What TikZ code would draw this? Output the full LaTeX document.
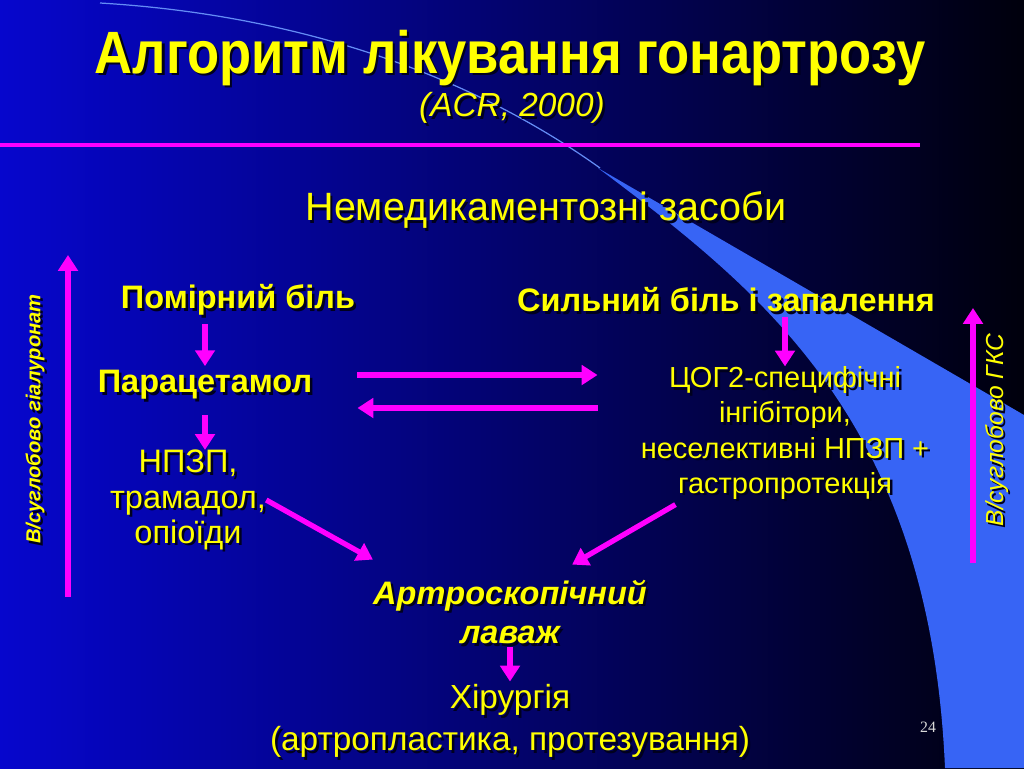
\documentclass[tikz,border=0pt]{standalone}
\usepackage{fontspec}
\setmainfont{Liberation Sans}
\newfontfamily\numfont{Liberation Serif}
\usetikzlibrary{arrows.meta,calc}

\definecolor{mag}{RGB}{255,0,255}
\definecolor{txtyel}{RGB}{255,255,0}
\definecolor{txtshadow}{RGB}{0,0,30}
\definecolor{bgleft}{RGB}{6,6,205}
\definecolor{bgmid}{RGB}{0,0,165}
\definecolor{bgright}{RGB}{0,0,12}
\definecolor{swoosh}{RGB}{55,100,245}
\definecolor{arcline}{RGB}{100,140,245}

% text with a dark drop shadow
\newcommand{\shnode}[4]{%
  \node[#1,text=txtshadow] at ($(#3)+(2.5,2.5)$) {#4};
  \node[#1] (#2) at (#3) {#4};}

\tikzset{
  lbl/.style={text=txtyel,align=center,inner sep=0pt,font=\fontsize{18.5}{20}\selectfont},
  lblb/.style={lbl,font=\bfseries\fontsize{18.5}{20}\selectfont},
  arr/.style={-{Triangle[length=9pt,width=11pt]},line width=3pt,draw=mag},
}

\begin{document}
\begin{tikzpicture}[x=0.02cm,y=-0.02cm]
  \useasboundingbox (0,0) rectangle (1024,768);

  % background
  \shade[left color=bgleft,middle color=bgmid,right color=bgright] (0,0) rectangle (1024,768);
  \fill[swoosh] (598,168) -- (1024,415) -- (1024,768) -- (945,768)
    .. controls (930,420) and (760,290) .. (598,168) -- cycle;
  \draw[arcline,line width=0.7pt] (100,3) .. controls (300,15) and (470,75) .. (600,168);

  % title
  \shnode{lbl,font=\bfseries\fontsize{34}{36}\selectfont}{title}{510,58}{\scalebox{0.88}[1]{Алгоритм лікування гонартрозу}}
  \shnode{lbl,font=\itshape\fontsize{19}{21}\selectfont}{src}{512,108}{(ACR, 2000)}
  \draw[mag,line width=2.8pt] (0,145) -- (920,145);

  \shnode{lbl,font=\fontsize{22.5}{24}\selectfont}{nondrug}{546,210}{Немедикаментозні засоби}

  % left branch
  \shnode{lblb}{mild}{238,300}{Помірний біль}
  \shnode{lblb}{para}{205,385}{Парацетамол}
  \shnode{lbl}{nsaid}{188,500}{НПЗП,\\трамадол,\\опіоїди}

  % right branch
  \shnode{lblb}{strong}{726,300}{Сильний біль і запалення}
  \shnode{lbl,font=\fontsize{16.5}{20}\selectfont}{cox}{785,433}{ЦОГ2-специфічні\\інгібітори,\\неселективні НПЗП +\\гастропротекція}

  % bottom
  \shnode{lblb,font=\bfseries\itshape\fontsize{18.5}{22.5}\selectfont}{artro}{510,612}{Артроскопічний\\лаваж}
  \shnode{lbl,font=\fontsize{19}{24}\selectfont}{surg}{510,721}{Хірургія\\(артропластика, протезування)}

  \node[text=white!85!black,font=\numfont\fontsize{9}{10}\selectfont] (pg) at (928,727) {24};

  % side labels
  \shnode{lblb,rotate=90,font=\bfseries\itshape\fontsize{11.5}{12}\selectfont}{hyal}{35,419}{В/суглобово гіалуронат}
  \shnode{lbl,rotate=90,font=\itshape\fontsize{14}{15}\selectfont}{gcs}{997,430}{В/суглобово ГКС}
  \coordinate (hb) at (68,597);
  \coordinate (ht) at (68,255);
  \coordinate (gb) at (973,563);
  \coordinate (gt) at (973,308);

  % arrows
  \draw[arr,shorten <=0.16cm,shorten >=0.08cm] (mild.south -| para.north) -- (para.north);
  \draw[arr,shorten <=0.3cm] (para.south) -- (para.south |- nsaid.north);
  \draw[arr,shorten <=0.08cm] (strong.south -| cox.north) -- (cox.north);
  \draw[arr,shorten <=0.9cm,shorten >=0.86cm] ([yshift=0.2cm]para.east) -- ([yshift=0.2cm]para.east -| cox.west);
  \draw[arr,shorten <=0.86cm,shorten >=0.9cm] ([yshift=-0.46cm]para.east -| cox.west) -- ([yshift=-0.46cm]para.east);
  \draw[arr] (nsaid.east) -- ([yshift=0.4cm]artro.north west);
  \draw[arr] ([xshift=0.7cm,yshift=-0.1cm]cox.south west) -- ([xshift=-1.5cm,yshift=0.3cm]artro.north east);
  \draw[arr,shorten <=0.05cm,shorten >=0.05cm] (artro.south) -- (surg.north);
  \draw[arr] (hb) -- (ht);
  \draw[arr] (gb) -- (gt);
\end{tikzpicture}
\end{document}
